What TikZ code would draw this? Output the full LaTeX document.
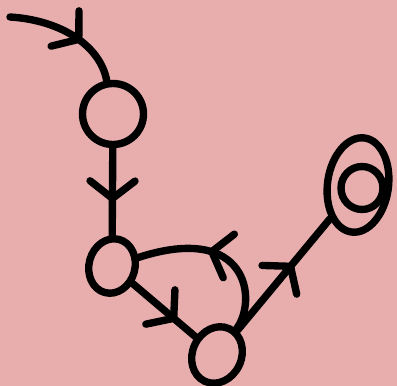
\documentclass[tikz,border=0pt]{standalone}
\usepackage{tikz}
\usetikzlibrary{shapes.geometric, arrows.meta, decorations.markings}
\definecolor{sketchpink}{RGB}{232,174,174}

\begin{document}
\begin{tikzpicture}[
    x=0.02cm, y=-0.02cm,
    state/.style={ellipse, draw, line width=4.2pt, inner sep=0pt},
    edge/.style={line width=4.2pt, line cap=round},
    midarrow/.style={postaction={decorate}, decoration={markings, mark=at position #1 with {\arrow{Straight Barb[length=3.5mm, width=9mm, round]}}}}
]

% background
\fill[sketchpink] (0,0) rectangle (397,386);

% states
\node[state, minimum width=1.22cm, minimum height=1.22cm] (s1) at (113,114) {};
\node[state, minimum width=0.92cm, minimum height=1.1cm, rotate=-15] (s2) at (112,266) {};
\node[state, minimum width=0.98cm, minimum height=1.16cm, rotate=-25] (s3) at (217,355) {};
\node[state, minimum width=1.22cm, minimum height=1.9cm, rotate=-8] (s4) at (358,185) {};
\node[state, minimum width=0.84cm, minimum height=0.86cm] (s4in) at (362,188) {};

% start arrow
\coordinate (start) at (10,17);
\draw[edge, midarrow=0.62] (start) .. controls (60,20) and (100,45) .. (s1);

% transitions
\draw[edge, midarrow=0.62] (s1) -- (s2);
\draw[edge, midarrow=0.7] (s2) -- (s3);
\draw[edge, midarrow=0.58] (s3) .. controls (258,300) and (248,222) .. (s2);
\draw[edge, midarrow=0.6] (s3) -- (s4);

\end{tikzpicture}
\end{document}
